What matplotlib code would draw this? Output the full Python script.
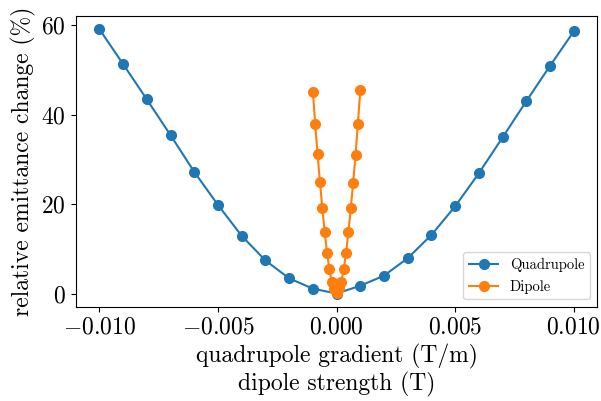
import matplotlib
matplotlib.use("Agg")
import matplotlib.pyplot as plt
import numpy as np

plt.rcParams["font.family"] = "serif"
plt.rcParams["font.serif"] = ["cmr10"]
plt.rcParams["mathtext.fontset"] = "cm"
plt.rcParams["axes.formatter.use_mathtext"] = True
plt.rcParams["font.size"] = 17

# quadrupole gradient scan (T/m) and emittance change (%)
quad_x = np.round(np.arange(-10, 11) * 0.001, 4)
quad_y = [59.1, 51.3, 43.4, 35.4, 27.2, 19.8, 12.9, 7.4, 3.4, 1.1, 0.0,
          1.75, 4.0, 7.9, 13.1, 19.5, 26.9, 34.9, 43.0, 50.9, 58.6]

# dipole strength scan (T) and emittance change (%)
dip_x = np.round(np.arange(-10, 11) * 0.0001, 5)
dip_y = [45.1, 37.9, 31.1, 24.9, 19.1, 13.7, 9.1, 5.4, 2.5, 1.0, 0.1,
         1.2, 2.6, 5.4, 9.1, 13.7, 19.1, 24.8, 31.0, 38.0, 45.5]

fig, ax = plt.subplots(figsize=(6.01, 4.01), dpi=100)
ax.plot(quad_x, quad_y, "o-", color="#1f77b4", markersize=7, label="Quadrupole")
ax.plot(dip_x, dip_y, "o-", color="#ff7f0e", markersize=7, label="Dipole")

ax.set_xticks([-0.010, -0.005, 0.0, 0.005, 0.010])
ax.set_xticklabels([r"$-0.010$", r"$-0.005$", r"$0.000$", r"$0.005$", r"$0.010$"])
ax.set_yticks([0, 20, 40, 60])
ax.set_yticklabels([r"$0$", r"$20$", r"$40$", r"$60$"])

ax.set_xlabel("quadrupole gradient (T/m)\ndipole strength (T)", linespacing=1.15)
ax.set_ylabel("relative emittance change (%)")
ax.legend(loc="lower right", fontsize=10.5)

fig.subplots_adjust(left=0.126, right=0.994, top=0.96, bottom=0.235)
fig.savefig("out.png", dpi=100)
